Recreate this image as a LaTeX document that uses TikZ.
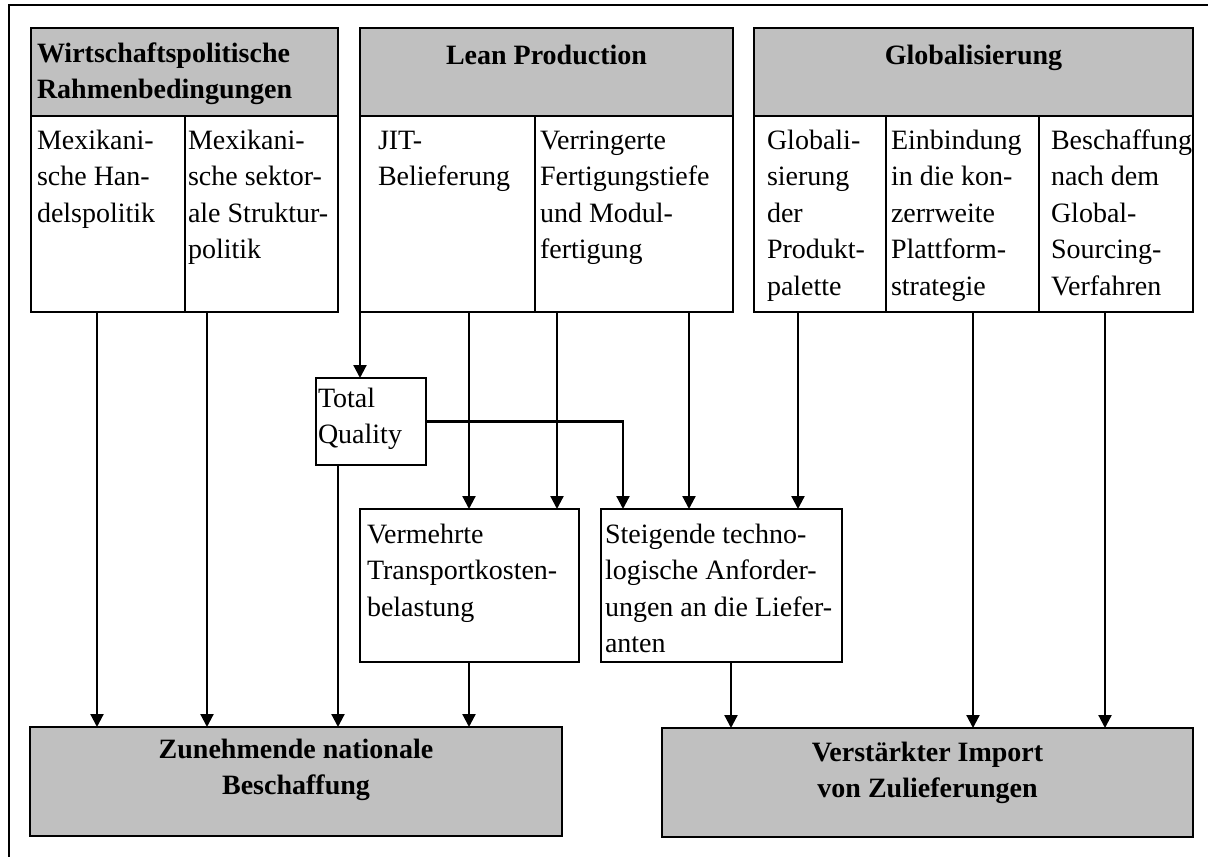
\documentclass[tikz,border=0pt]{standalone}
\usepackage{fontspec}
\setmainfont{Liberation Serif}
\usetikzlibrary{arrows.meta}
\definecolor{headgray}{HTML}{C0C0C0}
% multi-line text blocks whose baseline is the first line
\newcommand{\leftlines}[1]{\parbox[t]{300pt}{\raggedright #1}}
\newcommand{\midlines}[1]{\parbox[t]{420pt}{\centering #1}}

\begin{document}
\begin{tikzpicture}[x=1pt,y=-1pt,
  cell/.style={draw=black, line width=2.2pt, inner sep=0pt, outer sep=0pt, anchor=north west},
  headcell/.style={cell, fill=headgray},
  txt/.style={inner sep=0pt, outer sep=0pt, anchor=base west, font=\fontsize{28}{36.6}\selectfont},
  btxt/.style={txt, font=\fontsize{28}{36.6}\selectfont\bfseries},
  htxt/.style={btxt, anchor=base},
  arr/.style={line width=2.2pt, -{Triangle[length=13pt,width=13pt]}},
  frame/.style={line width=2.4pt}]

\useasboundingbox (0,0) rectangle (1208,857);
\clip (0,0) rectangle (1208,857);
\fill[white] (0,0) rectangle (1208,857);

% outer frame (runs off the right and lower edge)
\coordinate (frA) at (9,880);
\coordinate (frB) at (9,5);
\coordinate (frC) at (1230,5);
\draw[frame] (frA) -- (frB) -- (frC);

% --- upper group: Wirtschaftspolitische Rahmenbedingungen
\node[headcell, minimum width=307, minimum height=88] (wph) at (31,28) {};
\node[cell, minimum width=154, minimum height=196] (wpa) at (31,116) {};
\node[cell, minimum width=153, minimum height=196] (wpb) at (185,116) {};

% --- upper group: Lean Production
\node[headcell, minimum width=373, minimum height=88] (lph) at (360,28) {};
\node[cell, minimum width=175, minimum height=196] (lpa) at (360,116) {};
\node[cell, minimum width=198, minimum height=196] (lpb) at (535,116) {};

% --- upper group: Globalisierung
\node[headcell, minimum width=439, minimum height=88] (glh) at (754,28) {};
\node[cell, minimum width=132, minimum height=196] (gla) at (754,116) {};
\node[cell, minimum width=153, minimum height=196] (glb) at (886,116) {};
\node[cell, minimum width=154, minimum height=196] (glc) at (1039,116) {};

% --- intermediate boxes
\node[cell, minimum width=110, minimum height=87] (tq) at (316,378) {};
\node[cell, minimum width=219, minimum height=153] (vt) at (360,509) {};
\node[cell, minimum width=241, minimum height=153] (st) at (601,509) {};

% --- result boxes
\node[headcell, minimum width=532, minimum height=109] (zn) at (30,727) {};
\node[headcell, minimum width=531, minimum height=109] (vi) at (662,728) {};

% --- texts
\node[btxt] (wph-t) at (37,62) {\leftlines{Wirtschaftspolitische\\Rahmenbedingungen}};
\node[htxt] (lph-t) at (546.5,64) {Lean Production};
\node[htxt] (glh-t) at (973.5,64) {Globalisierung};

\node[txt] (wpa-t) at (37,149) {\leftlines{Mexikani-\\sche Han-\\delspolitik}};
\node[txt] (wpb-t) at (188,149) {\leftlines{Mexikani-\\sche sektor-\\ale Struktur-\\politik}};
\node[txt] (lpa-t) at (378,149) {\leftlines{JIT-\\Belieferung}};
\node[txt] (lpb-t) at (540,149) {\leftlines{Verringerte\\Fertigungstiefe\\und Modul-\\fertigung}};
\node[txt] (gla-t) at (767,149) {\leftlines{Globali-\\sierung\\der\\Produkt-\\palette}};
\node[txt] (glb-t) at (891,149) {\leftlines{Einbindung\\in die kon-\\zerrweite\\Plattform-\\strategie}};
\node[txt] (glc-t) at (1051,149) {\leftlines{Beschaffung\\nach dem\\Global-\\Sourcing-\\Verfahren}};

\node[txt] (tq-t) at (318,407) {\leftlines{Total\\Quality}};
\node[txt] (vt-t) at (367,543) {\leftlines{Vermehrte\\Transportkosten-\\belastung}};
\node[txt] (st-t) at (605,543) {\leftlines{Steigende techno-\\logische Anforder-\\ungen an die Liefer-\\anten}};

\node[htxt] (zn-t) at (296,758) {\midlines{Zunehmende nationale\\Beschaffung}};
\node[htxt] (vi-t) at (927.5,761) {\midlines{Verstärkter Import\\von Zulieferungen}};

% --- connectors
\draw[arr] ([xshift=66pt]wpa.south west) -- ([xshift=66pt]wpa.south west |- zn.north);
\draw[arr] ([xshift=22pt]wpb.south west) -- ([xshift=22pt]wpb.south west |- zn.north);

\draw[arr] (lpa.south west) -- (lpa.south west |- tq.north);
\draw[arr] ([xshift=109pt]lpa.south west) -- ([xshift=109pt]lpa.south west |- vt.north);
\draw[arr] ([xshift=22pt]lpb.south west) -- ([xshift=22pt]lpb.south west |- vt.north);
\draw[arr] ([xshift=154pt]lpb.south west) -- ([xshift=154pt]lpb.south west |- st.north);

\draw[arr] ([xshift=44pt]gla.south west) -- ([xshift=44pt]gla.south west |- st.north);
\draw[arr] ([xshift=87pt]glb.south west) -- ([xshift=87pt]glb.south west |- vi.north);
\draw[arr] ([xshift=66pt]glc.south west) -- ([xshift=66pt]glc.south west |- vi.north);

\draw[arr] (tq.east) -| ([xshift=22pt]st.north west);
\draw[arr] ([xshift=22pt]tq.south west) -- ([xshift=22pt]tq.south west |- zn.north);
\draw[arr] ([xshift=109pt]vt.south west) -- ([xshift=109pt]vt.south west |- zn.north);
\draw[arr] ([xshift=130pt]st.south west) -- ([xshift=130pt]st.south west |- vi.north);

\end{tikzpicture}
\end{document}
